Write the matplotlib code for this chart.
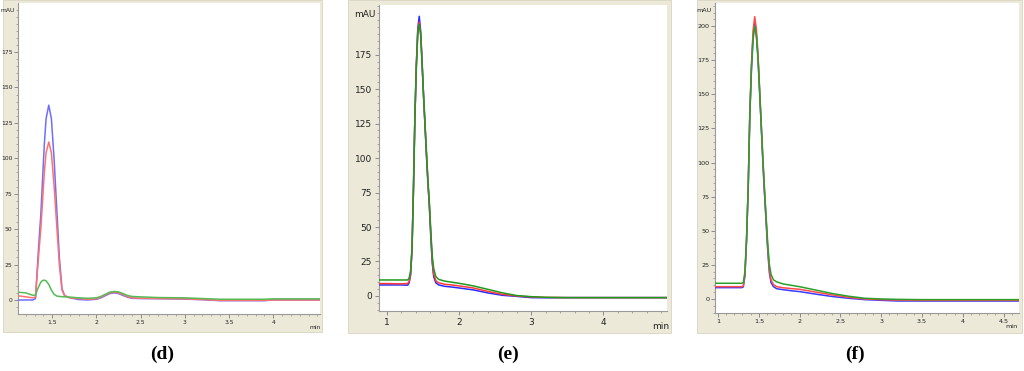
import matplotlib
matplotlib.use("Agg")
import matplotlib.pyplot as plt
from matplotlib.patches import Rectangle
from matplotlib.ticker import MultipleLocator, FixedLocator

# ---------------- data ----------------
# panel (d)
t_d = [1.11, 1.2, 1.28, 1.31, 1.33, 1.35, 1.37, 1.39, 1.41, 1.43, 1.46, 1.49, 1.52, 1.55,
       1.58, 1.61, 1.64, 1.7, 1.8, 1.9, 2.0, 2.05, 2.1, 2.15, 2.2, 2.25, 2.3, 2.35, 2.4,
       2.5, 2.7, 3.0, 3.2, 3.4, 3.6, 3.9, 4.0, 4.3, 4.53]
blue_d = [0, 0, 0, 1, 22, 42, 60, 85, 110, 128, 137.5, 128, 100, 65,
          30, 8, 3, 1.5, 0.3, 0, 0.5, 1.5, 3, 4.5, 5, 4.5, 3.2, 2, 1.2,
          1, 0.9, 0.6, 0.2, -0.5, -0.5, -0.5, 0, 0, 0]
red_d = [3, 2.2, 1.5, 2, 19, 35, 50, 70, 90, 104, 111.5, 104, 81, 53,
         25, 7, 3, 1.5, 1, 0.5, 0.8, 2, 3.5, 5, 5.4, 5, 3.8, 2.4, 1.5,
         1.2, 1, 0.8, 0.3, -0.3, -0.3, -0.3, 0, 0, 0]
green_d = [5.5, 5, 3.3, 3.5, 7, 10, 12.5, 13.7, 14, 13.5, 11, 7, 4, 2.8,
           2.5, 2.3, 2.2, 2, 1.5, 1.2, 1.5, 2.5, 4, 5.5, 6, 5.7, 4.5, 3.2, 2.5,
           2.2, 1.7, 1.5, 1, 0.5, 0.5, 0.5, 0.8, 0.8, 0.8]

# panel (e)
t_e = [0.89, 1.0, 1.2, 1.29, 1.31, 1.33, 1.35, 1.37, 1.39, 1.41, 1.43, 1.45, 1.47, 1.49,
       1.51, 1.53, 1.55, 1.57, 1.59, 1.61, 1.63, 1.65, 1.68, 1.72, 1.8, 1.9, 2.0, 2.2,
       2.4, 2.6, 2.8, 3.0, 3.2, 3.5, 4.0, 4.5, 4.88]
blue_e = [8, 8, 8, 7.8, 9.5, 15, 33, 77, 130, 168, 194, 202.8, 192, 169,
          145, 123, 102, 82, 65, 43, 24, 14, 9.5, 8, 7, 6.5, 5.8, 4.4,
          2.2, 0.5, -0.3, -1.2, -1.3, -1.2, -1.2, -1.2, -1.2]
red_e = [9, 9, 8.8, 9, 10.5, 16, 34, 78, 130, 167, 192, 198.5, 190, 168,
         145, 124, 103, 83, 66, 45, 26, 16, 11, 9.5, 8.5, 8, 7.3, 5.8,
         3.3, 1.2, 0, -0.7, -1, -1.2, -1.2, -1.2, -1.2]
green_e = [11.6, 11.6, 11.6, 11.6, 13, 18, 35, 78, 130, 166, 190, 197, 189, 168,
           145, 125, 104, 84, 68, 47, 29, 20, 14, 12, 10.8, 10, 9.2, 7.3,
           4.8, 2.3, 0.3, -0.5, -1, -1.2, -1.2, -1.2, -1.2]

# panel (f)
t_f = [0.963, 1.0, 1.2, 1.29, 1.31, 1.33, 1.35, 1.37, 1.39, 1.41, 1.43, 1.45, 1.47, 1.49,
       1.51, 1.53, 1.55, 1.57, 1.59, 1.61, 1.63, 1.65, 1.68, 1.72, 1.8, 1.9, 2.0, 2.2,
       2.4, 2.6, 2.8, 3.0, 3.2, 3.5, 3.8, 4.0, 4.3, 4.6, 4.69]
blue_f = [8.3, 8.3, 8.3, 8.3, 8.8, 17, 43, 81, 135, 170, 193, 202, 194, 177,
          152, 126, 100, 77, 56, 35, 19, 12, 9, 7.5, 6.8, 6, 5.4, 3.5,
          1.8, 0.5, -0.5, -1, -1.5, -1.5, -1.5, -1.5, -1.5, -1.5, -1.5]
red_f = [9, 9, 9, 9, 9.5, 18, 44, 82, 137, 172, 197, 207, 198, 180,
         154, 128, 102, 79, 58, 37, 21, 14, 10.5, 9, 8.2, 7.6, 7.1, 5,
         3, 1.2, 0, -0.5, -0.8, -1, -1, -1, -1, -1, -1]
green_f = [11.5, 11.5, 11.5, 11.5, 12, 20, 45, 82, 135, 168, 190, 200, 193, 176,
           152, 128, 103, 80, 60, 40, 25, 18, 14, 12.5, 11, 10, 9, 6.5,
           4, 2, 0.5, 0, -0.3, -0.5, -0.5, -0.5, -0.5, -0.5, -0.5]

panel_labels = ["d", "e", "f"]
xticks_d = [1.5, 2, 2.5, 3, 3.5, 4]
xticks_e = [1, 2, 3, 4]
xticks_f = [1, 1.5, 2, 2.5, 3, 3.5, 4, 4.5]
yticks_d = [0, 25, 50, 75, 100, 125, 150, 175]
yticks_e = [0, 25, 50, 75, 100, 125, 150, 175]
yticks_f = [0, 25, 50, 75, 100, 125, 150, 175, 200]

# ---------------- figure ----------------
W, H = 1024, 371
fig = plt.figure(figsize=(W / 100, H / 100), dpi=100)
fig.patch.set_facecolor("white")

BEIGE = "#ECE9D8"


def px_rect(x0, x1, y0, y1):
    return [x0 / W, 1 - y1 / H, (x1 - x0) / W, (y1 - y0) / H]


for (x0, x1, y0, y1) in [(3, 322, 0, 332), (348, 671, 0, 333), (697, 1022, 0, 333)]:
    r = px_rect(x0, x1, y0, y1)
    fig.patches.append(Rectangle((r[0], r[1]), r[2], r[3], transform=fig.transFigure,
                                 facecolor=BEIGE, edgecolor="#d8d4c0", lw=0.6, zorder=-5))

panels = [
    dict(rect=(18, 320, 3, 314), t=t_d, b=blue_d, r=red_d, g=green_d,
         xlim=(1.112, 4.53), ylim=(-9.9, 209.6), xt=xticks_d, yt=yticks_d,
         xminor=0.1, minx=4.48, fs=4.3, pad=1.0,
         colors=("#6e6eff", "#ff7070", "#55bb55")),
    dict(rect=(379, 667, 5, 311), t=t_e, b=blue_e, r=red_e, g=green_e,
         xlim=(0.893, 4.88), ylim=(-10.9, 211), xt=xticks_e, yt=yticks_e,
         xminor=0.2, minx=4.79, fs=6.5, pad=2.0,
         colors=("#2a2aff", "#ff3a3a", "#1f9a1f")),
    dict(rect=(715, 1019, 3, 313), t=t_f, b=blue_f, r=red_f, g=green_f,
         xlim=(0.963, 4.69), ylim=(-10.3, 217), xt=xticks_f, yt=yticks_f,
         xminor=0.1, minx=4.6, fs=4.6, pad=1.2,
         colors=("#3a3aff", "#ff4a4a", "#2aa02a")),
]

label_x = [162, 508, 855]

for i, p in enumerate(panels):
    x0, x1, y0, y1 = p["rect"]
    ax = fig.add_axes(px_rect(x0, x1, y0, y1))
    ax.set_zorder(2)
    ax.set_facecolor("white")
    cb, cr, cg = p["colors"]
    ax.plot(p["t"], p["b"], color=cb, lw=1.1, zorder=3)
    ax.plot(p["t"], p["r"], color=cr, lw=1.1, zorder=4)
    ax.plot(p["t"], p["g"], color=cg, lw=1.1, zorder=5)
    ax.set_xlim(*p["xlim"])
    ax.set_ylim(*p["ylim"])

    xt = list(p["xt"])
    xl = [("%g" % v) for v in xt]
    ax.xaxis.set_major_locator(FixedLocator(xt))
    ax.set_xticklabels(xl)
    ax.xaxis.set_minor_locator(MultipleLocator(p["xminor"]))
    ax.yaxis.set_major_locator(FixedLocator(p["yt"]))
    ax.set_yticklabels([str(v) for v in p["yt"]])
    ax.yaxis.set_minor_locator(MultipleLocator(5))

    for s in ("top", "right"):
        ax.spines[s].set_visible(False)
    for s in ("left", "bottom"):
        ax.spines[s].set_color("#9a9a9a")
        ax.spines[s].set_linewidth(0.8)
    ax.tick_params(which="major", direction="out", length=3, width=0.7,
                   color="#8a8a8a", labelsize=p["fs"], labelcolor="#222222", pad=p["pad"])
    ax.tick_params(which="minor", direction="out", length=1.6, width=0.6, color="#9a9a9a")

    # unit labels
    ax.text(p["minx"], -0.035, "min", transform=ax.get_xaxis_transform(),
            ha="center", va="top", fontsize=p["fs"], color="#222222")
    ax.text(-0.012, 0.985, "mAU", transform=ax.transAxes, ha="right", va="top",
            fontsize=p["fs"], color="#222222")

    fig.text(label_x[i] / W, 1 - 354 / H, "(" + panel_labels[i] + ")",
             ha="center", va="center", fontsize=14, fontweight="bold",
             family="Liberation Serif")

fig.savefig("out.png", dpi=100, facecolor="white")
